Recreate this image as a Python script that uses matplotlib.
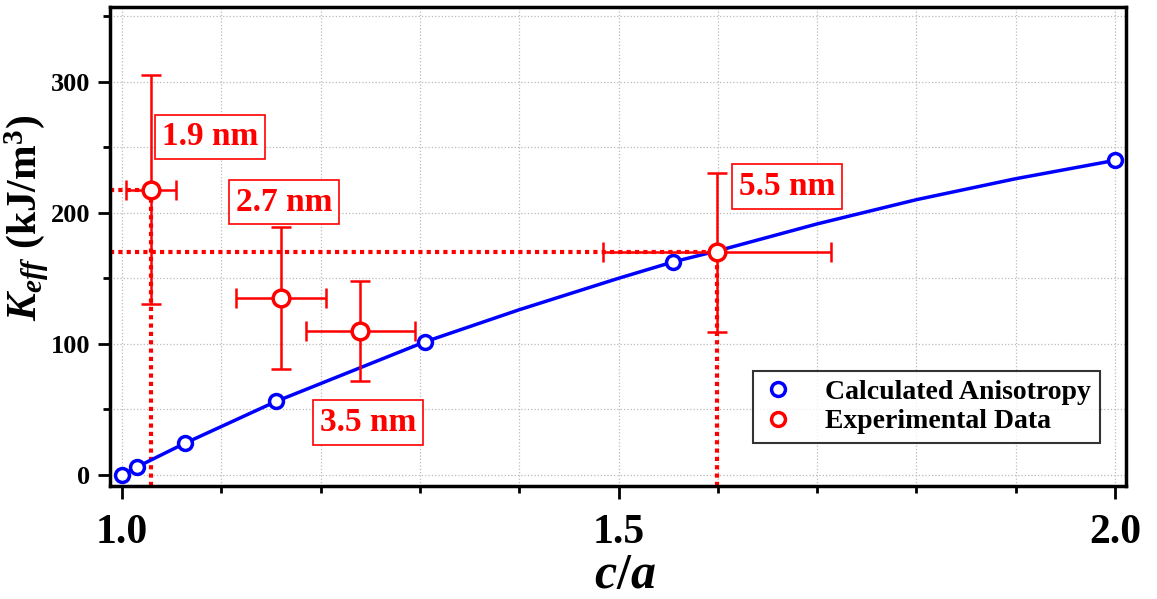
import numpy as np
import matplotlib
matplotlib.use('Agg')
import matplotlib.pyplot as plt
from matplotlib.ticker import MultipleLocator
from matplotlib.lines import Line2D

plt.rcParams['font.family'] = ['Liberation Serif', 'DejaVu Serif']
plt.rcParams['font.weight'] = 'bold'
plt.rcParams['mathtext.fontset'] = 'custom'
plt.rcParams['mathtext.rm'] = 'Liberation Serif:bold'
plt.rcParams['mathtext.it'] = 'Liberation Serif:bold:italic'
plt.rcParams['mathtext.bf'] = 'Liberation Serif:bold'

# calculated anisotropy (markers) and the curve
calc_x = [1.0, 1.015, 1.063, 1.155, 1.305, 1.555, 2.0]
calc_y = [0, 6, 24, 56, 101.5, 162.5, 240]
curve_x = [1.0, 1.015, 1.063, 1.155, 1.305, 1.4, 1.5, 1.555, 1.6, 1.7, 1.8, 1.9, 2.0]
curve_y = [0, 6, 24, 56, 101.5, 126, 150, 162.5, 171, 191.5, 210, 226, 240]

# experimental data
exp_x = [1.029, 1.160, 1.240, 1.599]
exp_y = [217.5, 135, 110, 170]
exp_xerr = [0.025, 0.045, 0.055, 0.115]
exp_yerr_lo = [87, 54, 38, 61]
exp_yerr_hi = [88, 54, 38, 60]
sizes = ['1.9 nm', '2.7 nm', '3.5 nm', '5.5 nm']
label_pos = [(1.089, 258), (1.163, 208), (1.248, 40), (1.67, 220)]

xmin, xmax = 0.988, 2.011
ymin, ymax = -8.5, 357

fig = plt.figure(figsize=(11.57, 5.99), dpi=100)
ax = fig.add_axes([0.0951, 0.1886, 0.8781, 0.7997])

# dotted guide lines from the 1.9 nm and 5.5 nm points to the axes
for i in [0, 3]:
    ax.plot([xmin, exp_x[i]], [exp_y[i], exp_y[i]], color='red', lw=3, dashes=(1, 1), zorder=2)
    ax.plot([exp_x[i], exp_x[i]], [ymin, exp_y[i]], color='red', lw=3, dashes=(1, 1), zorder=2)

ax.plot(curve_x, curve_y, '-', color='blue', lw=2.5, zorder=3)
ax.plot(calc_x, calc_y, 'o', ms=10, mfc='white', mec='blue', mew=2.5, zorder=4)

ax.errorbar(exp_x, exp_y, yerr=[exp_yerr_lo, exp_yerr_hi], xerr=exp_xerr,
            fmt='none', ecolor='red', elinewidth=1.8, capsize=7, capthick=1.8, zorder=5)
ax.plot(exp_x, exp_y, 'o', ms=12, mfc='white', mec='red', mew=2.5, zorder=6)

for s, (lx, ly) in zip(sizes, label_pos):
    ax.text(lx, ly, s, color='red', fontsize=24, fontweight='bold', ha='center', va='center',
            bbox=dict(boxstyle='square,pad=0.2', fc='white', ec='red', lw=1.2), zorder=7)

ax.set_xlim(xmin, xmax)
ax.set_ylim(ymin, ymax)
ax.xaxis.set_major_locator(MultipleLocator(0.5))
ax.xaxis.set_minor_locator(MultipleLocator(0.1))
ax.yaxis.set_major_locator(MultipleLocator(100))
ax.yaxis.set_minor_locator(MultipleLocator(50))
ax.set_xticks([1.0, 1.5, 2.0])
ax.set_xticklabels(['1.0', '1.5', '2.0'])
ax.grid(True, which='both', color='#bbbbbb', ls=':', lw=0.9, zorder=0)
ax.set_axisbelow(True)

ax.tick_params(axis='x', which='major', direction='out', length=9, width=2, pad=11, labelsize=30)
ax.tick_params(axis='x', which='minor', direction='out', length=5, width=2)
ax.tick_params(axis='y', which='major', direction='out', length=9, width=2, pad=5, labelsize=19)
ax.tick_params(axis='y', which='minor', direction='out', length=5, width=2)
for sp in ax.spines.values():
    sp.set_linewidth(2.5)

ax.set_xlabel('$c/a$', fontsize=36)
ax.xaxis.label.set_va('baseline')
ax.xaxis.set_label_coords(0.507, -0.212)
ax.set_ylabel(r'$K_{eff}\ \mathrm{(kJ/m^3)}$', fontsize=30)
ax.yaxis.label.set_va('baseline')
ax.yaxis.set_label_coords(-0.072, 0.56)

handles = [
    Line2D([], [], ls='none', marker='o', ms=10, mfc='white', mec='blue', mew=2.5),
    Line2D([], [], ls='none', marker='o', ms=10, mfc='white', mec='red', mew=2.5),
]
leg = ax.legend(handles, ['Calculated Anisotropy', 'Experimental Data'],
                loc='upper left', bbox_to_anchor=(0.633, 0.24), borderaxespad=0, fontsize=20,
                frameon=True, fancybox=False, edgecolor='black',
                handlelength=1.2, handletextpad=1.1, borderpad=0.3, labelspacing=0.15)
leg.get_frame().set_linewidth(1.5)
leg.set_zorder(8)

fig.savefig('out.png', dpi=100)
